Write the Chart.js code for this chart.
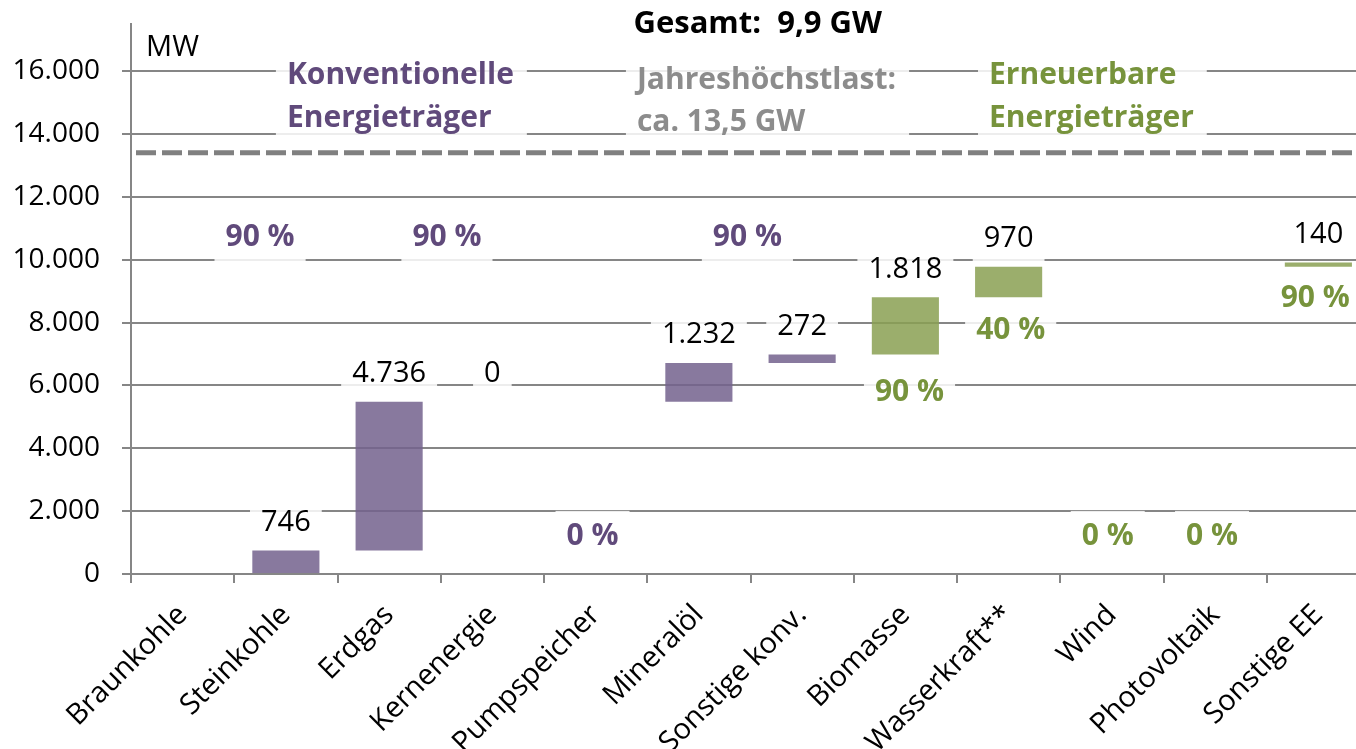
<!DOCTYPE html>
<html lang="de">
<head>
<meta charset="utf-8">
<title>Zubau Kraftwerksleistung</title>
<script src="https://cdn.jsdelivr.net/npm/chart.js@4.4.1/dist/chart.umd.min.js"></script>
<style>
  html, body { margin: 0; padding: 0; background: #fff; overflow: hidden; }
  #wrap { position: absolute; left: 0; top: 0; width: 1372px; height: 749px; }
</style>
</head>
<body>
<div id="wrap"><canvas id="wasserfall" width="1372" height="749"></canvas></div>
<script>
// Daten
const kategorien = ['Braunkohle', 'Steinkohle', 'Erdgas', 'Kernenergie', 'Pumpspeicher', 'Mineralöl',
    'Sonstige konv.', 'Biomasse', 'Wasserkraft**', 'Wind', 'Photovoltaik', 'Sonstige EE'];
const leistungMW = [0, 746, 4736, 0, 0, 1232, 272, 1818, 970, 0, 0, 140];
const wertText = ['', '746', '4.736', '0', '', '1.232', '272', '1.818', '970', '', '', '140'];
const gruppe = ['konv', 'konv', 'konv', 'konv', 'konv', 'konv', 'konv', 'ee', 'ee', 'ee', 'ee', 'ee'];

// Prozentangaben (Position in Kategorie-Einheiten / MW)
const quoteText = ['90 %', '90 %', '0 %', '90 %', '90 %', '40 %', '0 %', '0 %', '90 %'];
const quoteX = [0.75, 2.56, 3.97, 5.47, 7.04, 8.02, 8.96, 9.97, 10.97];
const quoteY = [10720, 10720, 1180, 10720, 5790, 7760, 1180, 1180, 8780];
const quoteGruppe = ['konv', 'konv', 'konv', 'konv', 'ee', 'ee', 'ee', 'ee', 'ee'];

const jahreshoechstlast = 13400;
const yTicks = [0, 2000, 4000, 6000, 8000, 10000, 12000, 14000, 16000];

const farben = {
    konv: { bar: 'rgba(115, 98, 141, 0.85)', text: '#604A7B' },
    ee: { bar: 'rgba(138, 160, 82, 0.85)', text: '#77933C' }
};

// Wasserfall: Start/Ende jeder Säule
let summe = 0;
const saeulen = leistungMW.map(v => {
    const r = [summe, summe + v];
    summe += v;
    return r;
});

function formatZahl(v) {
    return String(v).replace(/\B(?=(\d{3})+(?!\d))/g, '.');
}

Chart.defaults.font.family = "'Open Sans', 'Noto Sans', sans-serif";
Chart.defaults.color = '#000';

function zeichneText(ctx, text, x, y, font, color, align, box) {
    ctx.font = font;
    const w = ctx.measureText(text).width;
    let left = align === 'left' ? x : x - w / 2;
    if (box) {
        ctx.fillStyle = 'rgba(255,255,255,0.85)';
        ctx.fillRect(left - 11, y - 26, w + 22, 50);
    }
    ctx.fillStyle = color;
    ctx.textAlign = 'left';
    ctx.textBaseline = 'middle';
    ctx.fillText(text, left, y);
}

function zeichneBlock(ctx, zeilen, x, ys, font, color, chart) {
    const sx = chart.scales.x, sy = chart.scales.y;
    ctx.font = font;
    const left = sx.getPixelForValue(x);
    const breite = Math.max(...zeilen.map(z => ctx.measureText(z).width));
    const top = sy.getPixelForValue(ys[0]) - 22;
    const bottom = sy.getPixelForValue(ys[ys.length - 1]) + 24;
    ctx.fillStyle = 'rgba(255,255,255,0.85)';
    ctx.fillRect(left - 11, top, breite + 24, bottom - top);
    zeilen.forEach((z, i) => {
        zeichneText(ctx, z, left, sy.getPixelForValue(ys[i]), font, color, 'left', false);
    });
}

const beschriftung = {
    id: 'beschriftung',
    afterDatasetsDraw(chart) {
        const ctx = chart.ctx;
        const sx = chart.scales.x, sy = chart.scales.y;
        const area = chart.chartArea;
        ctx.save();

        // Jahreshöchstlast
        const yl = sy.getPixelForValue(jahreshoechstlast);
        ctx.strokeStyle = '#808080';
        ctx.lineWidth = 5;
        ctx.setLineDash([20, 6]);
        ctx.beginPath();
        ctx.moveTo(area.left + 5, yl);
        ctx.lineTo(area.right, yl);
        ctx.stroke();
        ctx.setLineDash([]);

        const bold = "bold 30px 'Open Sans', 'Noto Sans', sans-serif";
        const titel = "bold 31px 'Open Sans', 'Noto Sans', sans-serif";
        const normal = "29px 'Open Sans', 'Noto Sans', sans-serif";

        // Überschriften
        zeichneBlock(ctx, ['Konventionelle', 'Energieträger'], 1.01, [15870, 14500], bold, farben.konv.text, chart);
        zeichneBlock(ctx, ['Jahreshöchstlast:', 'ca. 13,5 GW'], 4.40, [15710, 14380], bold, '#8C8C8C', chart);
        zeichneBlock(ctx, ['Erneuerbare', 'Energieträger'], 7.81, [15870, 14500], bold, farben.ee.text, chart);
        zeichneText(ctx, 'Gesamt:  9,9 GW', sx.getPixelForValue(5.57), sy.getPixelForValue(17500), titel, '#000', 'center', false);
        zeichneText(ctx, 'MW', sx.getPixelForValue(-0.354), sy.getPixelForValue(16760), normal, '#000', 'left', false);

        // Werte über den Säulen
        saeulen.forEach((s, i) => {
            if (!wertText[i]) return;
            const x = sx.getPixelForValue(i);
            const y = sy.getPixelForValue(s[1]) - 28;
            zeichneText(ctx, wertText[i], x, y, normal, '#000', 'center', true);
        });

        // Prozentangaben
        quoteText.forEach((t, i) => {
            zeichneText(ctx, t, sx.getPixelForValue(quoteX[i]), sy.getPixelForValue(quoteY[i]),
                bold, farben[quoteGruppe[i]].text, 'center', true);
        });
        ctx.restore();
    }
};

new Chart(document.getElementById('wasserfall'), {
    type: 'bar',
    data: {
        labels: kategorien,
        datasets: [{
            data: saeulen,
            backgroundColor: gruppe.map(g => farben[g].bar),
            borderWidth: 0,
            barPercentage: 0.65,
            categoryPercentage: 1
        }]
    },
    options: {
        responsive: false,
        animation: false,
        devicePixelRatio: 1,
        layout: { padding: { top: 24, left: 0, right: 2, bottom: 0 } },
        plugins: { legend: { display: false }, tooltip: { enabled: false }, title: { display: false } },
        scales: {
            x: {
                offset: true,
                grid: { display: true, drawOnChartArea: false, drawTicks: true, tickLength: 9, offset: true, color: '#868686', lineWidth: 2 },
                border: { display: true, color: '#868686', width: 2 },
                ticks: { minRotation: 45, maxRotation: 45, autoSkip: false, padding: 15, font: { size: 29 }, color: '#000' },
                afterFit: s => {
                    s.height = 175;
                    s.paddingTop = 0; s.paddingBottom = 0; s.paddingLeft = 0; s.paddingRight = 0;
                }
            },
            y: {
                min: 0,
                max: 17500,
                grid: { color: '#868686', lineWidth: 2, tickLength: 9 },
                border: { display: true, color: '#868686', width: 2 },
                ticks: { stepSize: 2000, padding: 22, font: { size: 28 }, color: '#000', callback: v => formatZahl(v) },
                afterBuildTicks: s => { s.ticks = yTicks.map(v => ({ value: v })); },
                afterFit: s => {
                    s.width = 131;
                    s.paddingTop = 0; s.paddingBottom = 0;
                }
            }
        }
    },
    plugins: [beschriftung]
});
</script>
</body>
</html>
